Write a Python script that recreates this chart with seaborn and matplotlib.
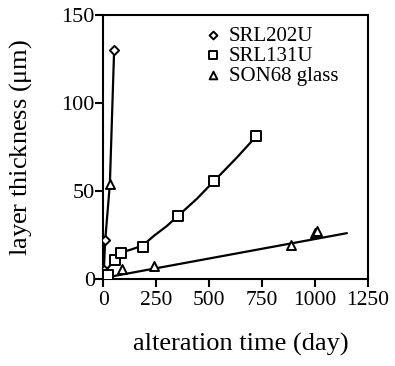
import matplotlib
matplotlib.use("Agg")
import matplotlib.pyplot as plt
import seaborn as sns

# --- data ---
srl202u_t = [5, 10, 52]
srl202u_y = [5, 22, 130]
srl131u_t = [25, 57, 85, 187, 355, 524, 722]
srl131u_y = [2, 11, 15, 18.4, 36, 55.7, 81]
son68_t = [32, 91, 242, 885, 1000, 1008]
son68_y = [54, 5.5, 7.4, 19, 26, 27]

# drawn curves
c202_t = [3, 10, 32, 52]
c202_y = [4, 22, 54, 130]
c131_t = [0, 57, 85, 135, 187, 240, 300, 355, 442, 524, 631, 722]
c131_y = [3, 11, 15, 16.8, 19, 24.5, 30, 36, 45.5, 55.7, 69, 81]
c68_t = [0, 1150]
c68_y = [0.5, 26]

xticks = [0, 250, 500, 750, 1000, 1250]
yticks = [0, 50, 100, 150]

sns.set_style("ticks")
plt.rcParams['font.family'] = ['Liberation Serif', 'DejaVu Serif']
plt.rcParams['mathtext.fontset'] = 'stix'
plt.rcParams['text.color'] = 'black'
plt.rcParams['axes.labelcolor'] = 'black'
plt.rcParams['xtick.color'] = 'black'
plt.rcParams['ytick.color'] = 'black'

fig = plt.figure(figsize=(3.95, 3.66), dpi=100)
ax = fig.add_axes([0.261, 0.238, 0.671, 0.721])

for t, y in [(c202_t, c202_y), (c131_t, c131_y), (c68_t, c68_y)]:
    sns.lineplot(x=t, y=y, ax=ax, sort=False, color='black', lw=1.6, estimator=None)

mk = dict(color='white', edgecolor='black', linewidth=1.4, ax=ax, zorder=3)
sns.scatterplot(x=srl202u_t, y=srl202u_y, marker='D', s=22, label='SRL202U', **mk)
sns.scatterplot(x=srl131u_t, y=srl131u_y, marker='s', s=50, label='SRL131U', **mk)
sns.scatterplot(x=son68_t, y=son68_y, marker='^', s=42, label='SON68 glass', **mk)

ax.set_xlim(0, 1250)
ax.set_ylim(0, 150)
ax.set_xticks(xticks)
ax.set_yticks(yticks)
ax.set_xticklabels([str(v) for v in xticks], fontsize=15.5)
ax.set_yticklabels([str(v) for v in yticks], fontsize=16)
for s in ax.spines.values():
    s.set_linewidth(1.5)
    s.set_color('black')
ax.tick_params(axis='x', direction='out', length=6, width=1.5, colors='black', pad=3)
ax.tick_params(axis='y', direction='out', length=6, width=1.5, colors='black', pad=0)
ax.set_xlabel('alteration time (day)', fontsize=19, color='black')
ax.xaxis.set_label_coords(0.518, -0.205)
ax.set_ylabel('layer thickness ($\\mathregular{\\mu}$m)', fontsize=19, labelpad=20, color='black')

leg = ax.legend(loc='upper right', bbox_to_anchor=(0.92, 0.99), frameon=False, fontsize=15,
                handletextpad=0.15, labelspacing=0.02, borderaxespad=0.0, borderpad=0.4,
                markerscale=0.85, handlelength=1.2, labelcolor='black')

fig.savefig('out.png', dpi=100)
